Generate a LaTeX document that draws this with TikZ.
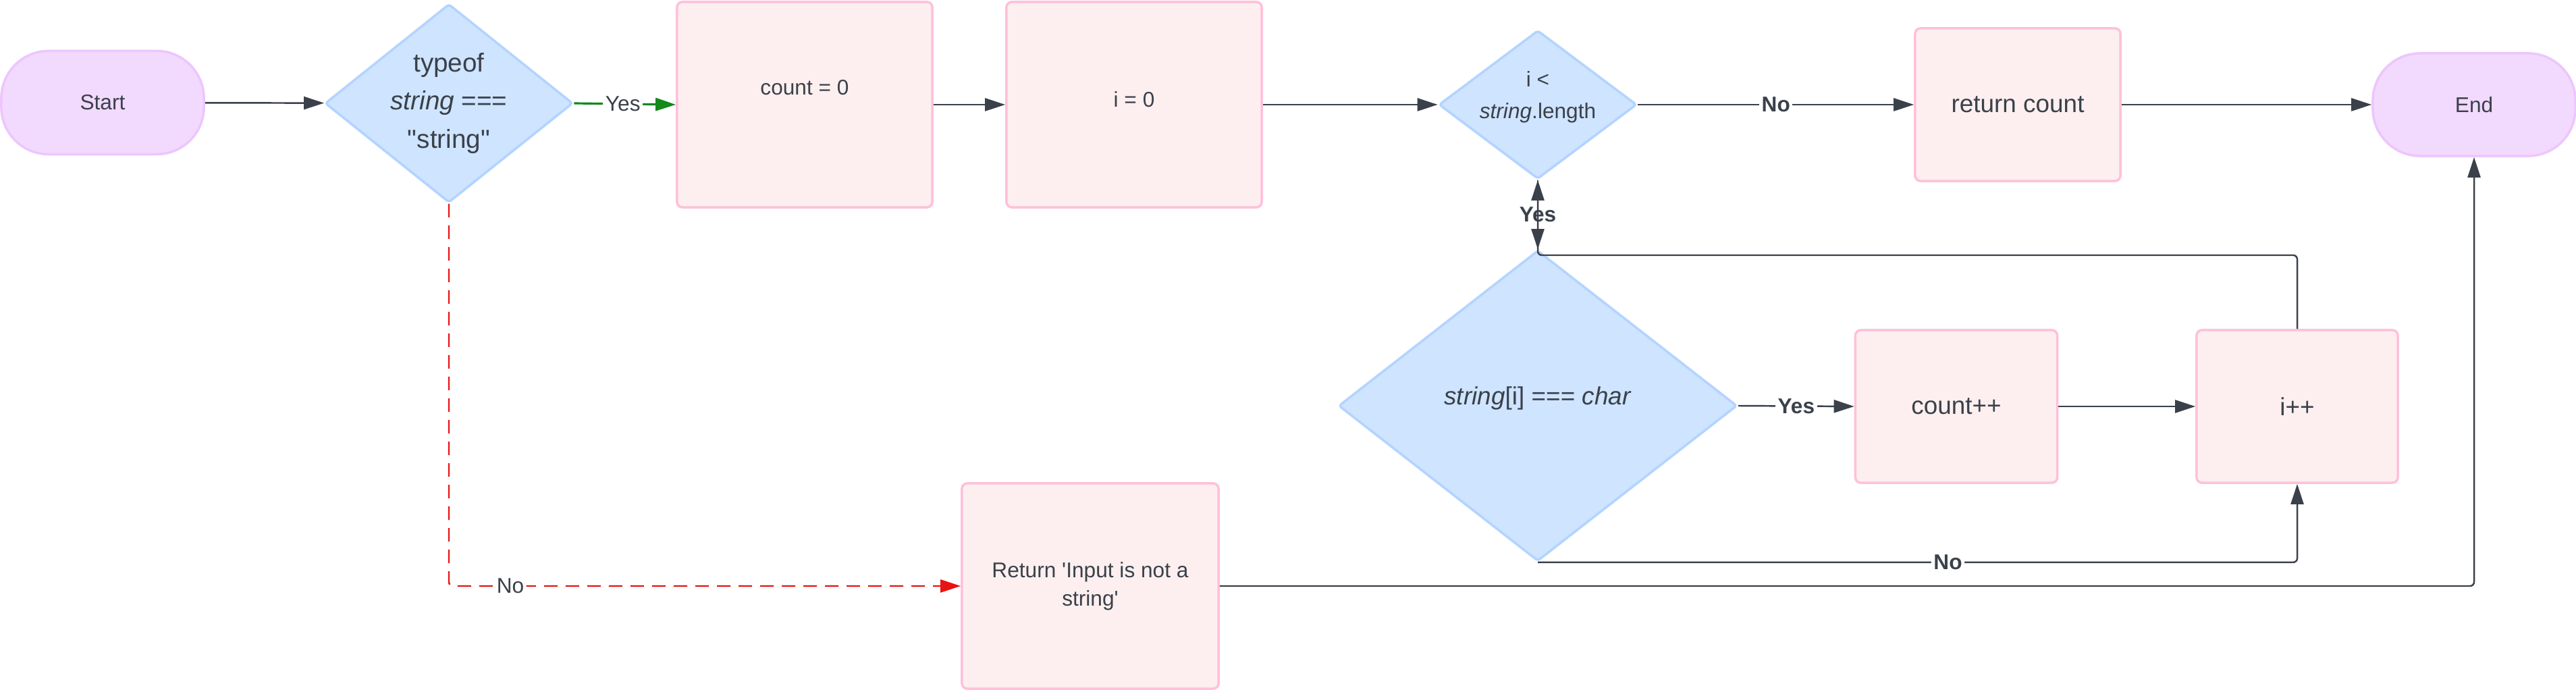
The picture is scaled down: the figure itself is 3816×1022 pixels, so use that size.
\documentclass[tikz,border=0pt]{standalone}
\usepackage{fontspec}
\setmainfont{Liberation Sans}[Ligatures=TeXOff]
\usepackage{xcolor}
\usetikzlibrary{shapes.geometric,arrows.meta}

\definecolor{ink}{HTML}{3A414A}
\definecolor{boxfill}{HTML}{FDEFEF}
\definecolor{boxline}{HTML}{FFC0DA}
\definecolor{decfill}{HTML}{CFE4FF}
\definecolor{decline}{HTML}{B3D4FF}
\definecolor{termfill}{HTML}{F2D9FE}
\definecolor{termline}{HTML}{EDC6FD}
\definecolor{yesgreen}{HTML}{138A1A}
\definecolor{nored}{HTML}{E81313}

\tikzset{
  procbox/.style={draw=boxline,fill=boxfill,line width=1pt,rounded corners=0.08cm,text=ink},
  decision/.style={diamond,draw=decline,fill=decfill,line width=1pt,rounded corners=0.04cm,
    inner sep=0pt},
  terminal/.style={draw=termline,fill=termfill,line width=1pt,rounded corners=0.7cm,text=ink},
  txt/.style={text=ink,align=center,inner sep=0pt},
  flow/.style={draw=ink,line width=0.7pt,-{Triangle[length=0.3cm,width=0.19cm]}},
  lbl/.style={fill=white,inner sep=1pt,text=ink,font=\fontsize{9}{11}\selectfont},
}

\begin{document}
\begin{tikzpicture}[x=0.01cm,y=-0.01cm]
	\useasboundingbox (0,0) rectangle (3816,1022);
	
	% top row
	\node[terminal,minimum width=3cm,minimum height=1.53cm,font=\fontsize{9}{11}\selectfont]
	(start) at (152,152) {Start};
	\node[decision,minimum width=3.67cm,minimum height=2.94cm] (d1) at (665,153) {};
	\node[txt,font=\fontsize{11}{16}\selectfont] (d1t) at (665,153)
	{typeof\\ \textit{string} ===\\ "string"};
	\node[procbox,minimum width=3.78cm,minimum height=3.04cm] (cnt0) at (1192,155) {};
	\node[txt,font=\fontsize{9}{11}\selectfont] (cnt0t) at (1192,130) {count = 0};
	\node[procbox,minimum width=3.78cm,minimum height=3.04cm] (i0) at (1680,155) {};
	\node[txt,font=\fontsize{9}{11}\selectfont] (i0t) at (1680,147) {i = 0};
	\node[decision,minimum width=2.93cm,minimum height=2.2cm] (d2) at (2278,155) {};
	\node[txt,font=\fontsize{9}{13.5}\selectfont] (d2t) at (2278,144)
	{i <\\ \textit{string}.length};
	\node[procbox,minimum width=3.04cm,minimum height=2.26cm,font=\fontsize{10.5}{12}\selectfont]
	(ret) at (2989,155) {return count};
	\node[terminal,minimum width=3cm,minimum height=1.52cm,font=\fontsize{9}{11}\selectfont]
	(endn) at (3665,155) {End};
	
	% loop body
	\node[decision,minimum width=5.9cm,minimum height=4.6cm] (d3) at (2278,601) {};
	\node[txt,font=\fontsize{10.5}{12}\selectfont] (d3t) at (2278,590)
	{\textit{string}[i] === \textit{char}};
	\node[procbox,minimum width=2.99cm,minimum height=2.26cm,font=\fontsize{10.5}{12}\selectfont]
	(cpp) at (2898,602) {count++};
	\node[procbox,minimum width=2.98cm,minimum height=2.26cm,font=\fontsize{10.5}{12}\selectfont]
	(ipp) at (3403,602) {i++};
	
	% error branch
	\node[procbox,minimum width=3.8cm,minimum height=3.04cm,align=center,
	font=\fontsize{9}{12}\selectfont]
	(retn) at (1615,868) {Return 'Input is not a\\ string'};
	
	\coordinate (loop) at (2278,378);
	
	\draw[flow] (start) -- (d1);
	\draw[flow,draw=yesgreen,line width=0.9pt,-{Triangle[length=0.3cm,width=0.19cm,fill=yesgreen]}]
	(d1.east) -- (cnt0.west) node[lbl,pos=0.48]{Yes};
	\draw[flow] (cnt0) -- (i0);
	\draw[flow] (i0) -- (d2);
	\draw[flow] (d2) -- (ret) node[lbl,midway,font=\fontsize{9}{11}\bfseries]{No};
	\draw[flow] (ret) -- (endn);
	\draw[flow] (d2.south) -- (d3.north) node[lbl,midway,font=\fontsize{9}{11}\bfseries]{Yes};
	\draw[flow,rounded corners=0.06cm] (ipp.north) |- (loop) -- (d2.south);
	\draw[flow] (d3.east) -- (cpp.west) node[lbl,midway,font=\fontsize{9}{11}\bfseries]{Yes};
	\draw[flow] (cpp) -- (ipp);
	\draw[flow,rounded corners=0.06cm] (d3.south) -| (ipp.south)
	node[lbl,pos=0.27,font=\fontsize{9}{11}\bfseries]{No};
	\draw[flow,draw=nored,dashed,dash pattern=on 0.2cm off 0.12cm,rounded corners=0.06cm,
	-{Triangle[length=0.3cm,width=0.19cm,fill=nored]}]
	(d1.south) |- (retn.west) node[lbl,pos=0.56]{No};
	\draw[flow,rounded corners=0.06cm] (retn.east) -| (endn.south);
	
\end{tikzpicture}
\end{document}
